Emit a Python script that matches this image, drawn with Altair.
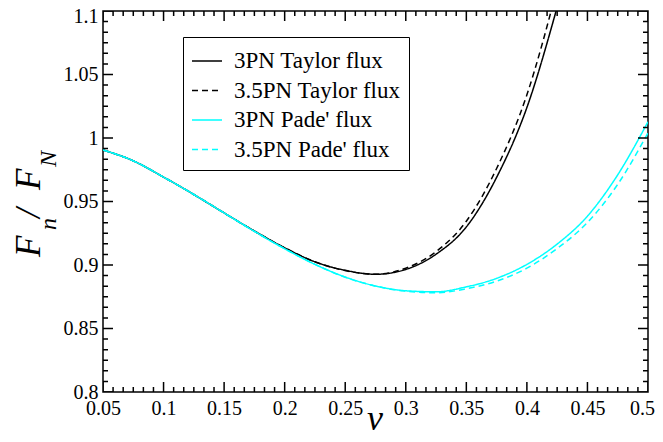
import altair as alt
import pandas as pd

# ---- data ----
NU_PADE = [0.05, 0.075, 0.1, 0.125, 0.15, 0.175, 0.2, 0.225, 0.25, 0.275,
           0.3, 0.325, 0.35, 0.375, 0.4, 0.425, 0.45, 0.475, 0.5]
PADE_3PN = [0.9906, 0.982, 0.9692, 0.9555, 0.941, 0.9265, 0.9128, 0.9005, 0.8905, 0.8835,
            0.8797, 0.8789, 0.8828, 0.8895, 0.9005, 0.9165, 0.9385, 0.971, 1.0128]
PADE_35PN = [0.9906, 0.982, 0.9692, 0.9555, 0.941, 0.9265, 0.9128, 0.9005, 0.8904, 0.8833,
             0.8794, 0.8781, 0.8813, 0.8873, 0.8975, 0.913, 0.9335, 0.9635, 1.004]

NU_TAYLOR = [0.05, 0.075, 0.1, 0.125, 0.15, 0.175, 0.2, 0.225, 0.25, 0.275,
             0.3, 0.325, 0.35, 0.375, 0.4, 0.425]
TAYLOR_3PN = [0.9906, 0.982, 0.9692, 0.9555, 0.941, 0.9267, 0.9135, 0.9025, 0.8958, 0.8927,
              0.8965, 0.9085, 0.930, 0.969, 1.024, 1.103]
TAYLOR_35PN = [0.9906, 0.982, 0.9692, 0.9555, 0.941, 0.9267, 0.9135, 0.9025, 0.8956, 0.8927,
               0.8975, 0.9105, 0.9345, 0.976, 1.034, 1.118]

SERIES = ["3PN Taylor flux", "3.5PN Taylor flux", "3PN Pade' flux", "3.5PN Pade' flux"]
COLORS = ["black", "black", "cyan", "cyan"]
DASHES = [[1, 0], [6, 4], [1, 0], [6, 4]]

X_TICKS = [0.05, 0.1, 0.15, 0.2, 0.25, 0.3, 0.35, 0.4, 0.45, 0.5]
Y_TICKS = [0.8, 0.85, 0.9, 0.95, 1.0, 1.05, 1.1]
MINOR_PER_MAJOR = 5

X_DOMAIN = [0.05, 0.5]
Y_DOMAIN = [0.8, 1.1]

W, H = 545, 381
MAJOR_PX, MINOR_PX = 10, 5
FONT = "Liberation Serif"

# ---- tables ----
rows = []
for nu, a, b in zip(NU_TAYLOR, TAYLOR_3PN, TAYLOR_35PN):
    rows.append({"nu": nu, "val": a, "series": SERIES[0], "seg": SERIES[0]})
    rows.append({"nu": nu, "val": b, "series": SERIES[1], "seg": SERIES[1]})
for nu, a, b in zip(NU_PADE, PADE_3PN, PADE_35PN):
    rows.append({"nu": nu, "val": a, "series": SERIES[2], "seg": SERIES[2]})
    rows.append({"nu": nu, "val": b, "series": SERIES[3], "seg": SERIES[3]})


def minors(major):
    out = []
    for a, b in zip(major[:-1], major[1:]):
        step = (b - a) / (MINOR_PER_MAJOR + 1)
        out += [round(a + step * k, 6) for k in range(1, MINOR_PER_MAJOR + 1)]
    return out


# inward frame ticks as short two-point segments (tick length converted from px to data units)
x0, x1 = X_DOMAIN
y0, y1 = Y_DOMAIN
k = 0


def seg(p, q):
    global k
    k += 1
    rows.append({"nu": p[0], "val": p[1], "series": "tick", "seg": f"t{k}"})
    rows.append({"nu": q[0], "val": q[1], "series": "tick", "seg": f"t{k}"})


for vals, px in ((X_TICKS, MAJOR_PX), (minors(X_TICKS), MINOR_PX)):
    ly = px * (y1 - y0) / H
    for v in vals:
        seg((v, y0), (v, y0 + ly))
        seg((v, y1), (v, y1 - ly))
for vals, px in ((Y_TICKS, MAJOR_PX), (minors(Y_TICKS), MINOR_PX)):
    lx = px * (x1 - x0) / W
    for v in vals:
        seg((x0, v), (x0 + lx, v))
        seg((x1, v), (x1 - lx, v))

df = pd.DataFrame(rows)

xs = alt.Scale(domain=X_DOMAIN, nice=False, zero=False)
ys = alt.Scale(domain=Y_DOMAIN, nice=False, zero=False)

x_lab = alt.Axis(values=X_TICKS, format="~g", title=None, labelPadding=6, ticks=False,
                 labelOffset={"condition": {"test": "datum.value >= 0.499", "value": -6}, "value": 0})
y_lab = alt.Axis(values=Y_TICKS, format="~g", title=None, labelPadding=5, ticks=False,
                 labelOffset={"condition": {"test": "datum.value >= 1.099", "value": 5}, "value": 0})

lines = alt.Chart(df).mark_line(clip=True, strokeWidth=1.5, interpolate="monotone").encode(
    x=alt.X("nu:Q", scale=xs, axis=x_lab),
    y=alt.Y("val:Q", scale=ys, axis=y_lab),
    color=alt.Color("series:N",
                    scale=alt.Scale(domain=SERIES + ["tick"], range=COLORS + ["black"]),
                    legend=alt.Legend(title=None, values=SERIES)),
    strokeDash=alt.StrokeDash("series:N",
                              scale=alt.Scale(domain=SERIES + ["tick"], range=DASHES + [[1, 0]]),
                              legend=alt.Legend(title=None, values=SERIES)),
    detail="seg:N",
)


# axis titles (y title built from pieces to get subscripts)
def txt(s, x, y, size, angle=270, align="left", style="italic"):
    return alt.Chart(pd.DataFrame({"s": [s]})).mark_text(
        font=FONT, fontSize=size, fontStyle=style, angle=angle, align=align,
        baseline="alphabetic", color="black").encode(
        x=alt.value(x), y=alt.value(y), text="s:N")


title_layers = [
    txt("F", -63, 246, 35),
    txt("n", -47, 219, 24),
    txt("/", -63, 207, 35),
    txt("F", -63, 179, 35),
    txt("N", -47, 156, 24),
    txt("\u03bd", 272, 419, 36, angle=0, align="center"),
]

chart = alt.layer(lines, *title_layers).properties(
    width=W, height=H,
    autosize=alt.AutoSizeParams(type="none"),
    padding={"left": 95, "top": 3, "right": 7, "bottom": 42},
).configure_view(
    stroke="black", strokeWidth=1.5
).configure_axis(
    labelFont=FONT, labelFontSize=20, labelColor="black", domain=False,
    grid=False, labelFlush=False, labelOverlap=False, labelBound=False,
).configure_legend(
    orient="none", legendX=80, legendY=26, strokeColor="black", fillColor="white",
    padding=8, symbolType="stroke", symbolSize=900, symbolStrokeWidth=1.6,
    labelFont=FONT, labelFontSize=23, labelColor="black", labelOffset=11,
    labelLimit=400, rowPadding=1.5, cornerRadius=0,
)

chart.save("out.html", embed_options={"renderer": "svg", "actions": False})
